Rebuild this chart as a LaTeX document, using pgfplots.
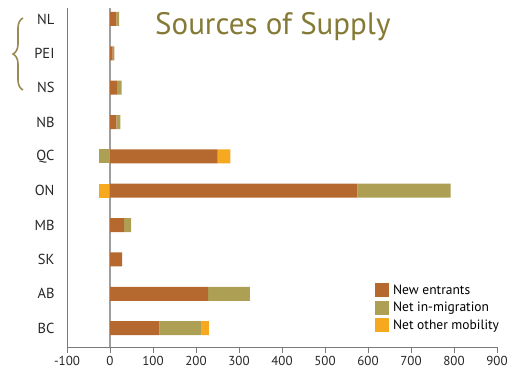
\documentclass[border=0pt]{standalone}
\usepackage{fontspec}
\setmainfont{PT Sans}
\usepackage{pgfplots}
\pgfplotsset{compat=1.18}
\usepackage{pgfplotstable}
\usetikzlibrary{decorations.pathreplacing}
\definecolor{newent}{HTML}{B5692E}
\definecolor{netmig}{HTML}{ADA055}
\definecolor{netoth}{HTML}{F6A91F}
\definecolor{titlec}{HTML}{857A35}
\definecolor{bracec}{HTML}{9A8A55}
\definecolor{axc}{HTML}{7A7A7A}

\pgfplotstableread{
idx new mig other
0 15 6 0
1 6 4 0
2 16 11 0
3 15 9 0
4 250 0 30
5 575 217 0
6 33 16 0
7 28 0 0
8 228 97 0
9 115 98 17
}\pos
\pgfplotstableread{
idx mig other
0 0 0
1 0 0
2 0 0
3 0 0
4 -26 0
5 0 -26
6 0 0
7 0 0
8 0 0
9 0 0
}\negs

\pgfplotsset{
  common/.style={
    scale only axis, width=430bp, height=339bp,
    xmin=-100, xmax=900, ymin=-0.32, ymax=9.55, y dir=reverse,
    at={(67bp,38bp)}, anchor=south west,
    bar width=14bp,
  },
}

\begin{document}
\begin{tikzpicture}
\useasboundingbox (0,0) rectangle (525bp,385bp);
\begin{axis}[common, hide axis, xbar stacked]
\addplot[fill=netmig, draw=none] table[x=mig, y=idx] {\negs};
\addplot[fill=netoth, draw=none] table[x=other, y=idx] {\negs};
\end{axis}
\begin{axis}[common, xbar stacked,
    axis x line*=bottom, axis y line*=left,
    axis line style={axc, line width=1pt},
    xtick={-100,0,...,900},
    xticklabels={-100,0,100,200,300,400,500,600,700,800,900},
    ytick={0,...,9},
    yticklabels={NL,PEI,NS,NB,QC,ON,MB,SK,AB,BC},
    tick align=outside,
    major tick length=6bp,
    x tick style={axc, line width=0.8pt},
    y tick style={draw=none},
    tick label style={font=\fontsize{13bp}{15bp}\selectfont, black!85},
    yticklabel style={font=\fontsize{14.5bp}{16bp}\selectfont, xshift=-3bp},
    extra x ticks={0}, extra x tick labels={},
    extra x tick style={grid=major, major grid style={black!38, line width=1.4pt}, major tick length=0pt},
    legend style={at={(0.708,0.196)}, anchor=north west, draw=none, fill=none,
      font=\fontsize{13.5bp}{15bp}\selectfont, row sep=2.5bp,
      legend cell align=left},
    legend image code/.code={\fill[#1] (0bp,-7bp) rectangle (14bp,7bp);},
  ]
\addplot[fill=newent, draw=none] table[x=new, y=idx] {\pos};
\addlegendentry{\hspace{2.5bp}New entrants}
\addplot[fill=netmig, draw=none] table[x=mig, y=idx] {\pos};
\addlegendentry{\hspace{2.5bp}Net in-migration}
\addplot[fill=netoth, draw=none] table[x=other, y=idx] {\pos};
\addlegendentry{\hspace{2.5bp}Net other mobility}
\end{axis}
\node[anchor=base west, text=titlec, font=\fontsize{31bp}{34bp}\selectfont, inner sep=0pt] at (155bp,350bp) {Sources of Supply};
\draw[bracec, line width=1.6bp, decorate, decoration={brace, amplitude=10bp, aspect=0.5}] (23bp,295bp) -- (23bp,367bp);
\end{tikzpicture}
\end{document}
